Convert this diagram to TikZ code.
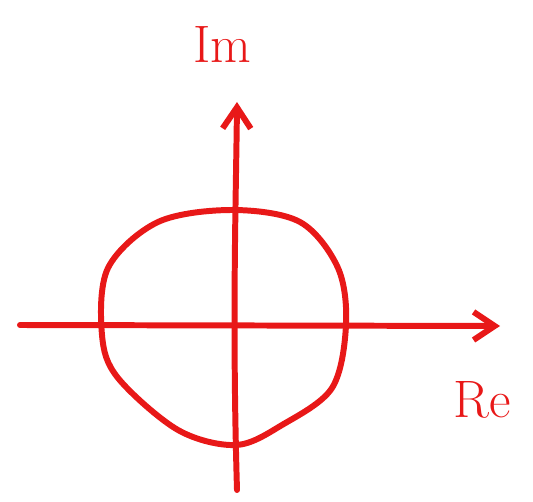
\documentclass[tikz,border=0pt]{standalone}
\usepackage{tikz}
\usetikzlibrary{arrows.meta}

\definecolor{pen}{RGB}{232,24,24}

\begin{document}
\begin{tikzpicture}[x=0.02cm,y=-0.02cm,
  ink/.style={draw=pen,line width=3.4pt,line cap=round,line join=round},
  lbl/.style={text=pen,font=\fontsize{30}{30}\selectfont}]
\useasboundingbox (0,0) rectangle (533,502);

% axes
\coordinate (w) at (20,325);
\coordinate (e) at (500,326);
\coordinate (s) at (237,490);
\coordinate (n) at (237,102);
\draw[ink,-{Straight Barb[length=12pt,width=16pt]}] (w) -- (e);
\draw[ink,-{Straight Barb[length=12pt,width=16pt]}] (s) .. controls (232,320) and (236,200) .. (n);

% circle
\draw[ink] plot[smooth cycle,tension=0.55] coordinates {
  (232,210) (300,222) (338,268) (346,325) (332,388) (282,425) (236,445)
  (178,430) (118,378) (102,335) (108,268) (158,222)};

\node[lbl] (im) at (222,45) {Im};
\node[lbl] (re) at (482,400) {Re};
\end{tikzpicture}
\end{document}
